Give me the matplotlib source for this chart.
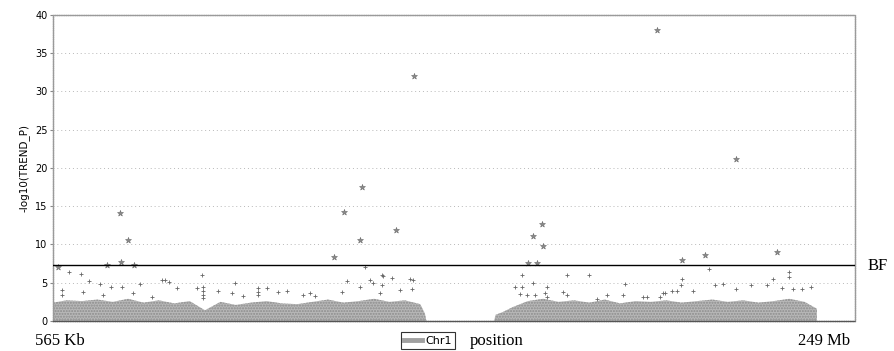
import matplotlib
matplotlib.use("Agg")
import matplotlib.pyplot as plt
from matplotlib.lines import Line2D


# genome-wide threshold, -log10(5e-8)
BF_LEVEL = 7.3

# top of the dense background cloud (Mb, -log10 p); zeros mark the centromere gap
env_mb = [0.6, 5, 10, 15, 20, 25, 30, 35, 40, 45, 50, 55, 60, 65, 70, 75, 80, 85,
          90, 95, 100, 105, 110, 115, 120, 121.5, 122, 144, 144.5, 147, 150, 155,
          160, 165, 170, 175, 180, 185, 190, 195, 200, 205, 210, 215, 220, 225,
          230, 235, 240, 245, 249]
env_val = [2.4, 2.7, 2.6, 2.8, 2.5, 2.9, 2.4, 2.7, 2.3, 2.6, 1.4, 2.5, 2.1, 2.4,
           2.6, 2.3, 2.2, 2.5, 2.8, 2.4, 2.6, 2.9, 2.5, 2.7, 2.2, 1.0, 0.0, 0.0,
           0.8, 1.2, 1.8, 2.6, 2.9, 2.5, 2.7, 2.4, 2.8, 2.3, 2.6, 2.5, 2.7, 2.4,
           2.6, 2.8, 2.5, 2.7, 2.4, 2.6, 2.9, 2.5, 1.6]

# scattered SNPs above the cloud but below the threshold
mid_mb = [3.5, 3.5, 5.8, 9.7, 10.3, 12.3, 15.9, 16.8, 19.4, 23.0, 26.6, 28.9, 32.8,
          36.0, 37.0, 38.3, 40.9, 47.4, 49.0, 49.3, 49.3, 49.3, 49.3, 54.2, 58.8,
          59.7, 62.3, 67.2, 67.2, 67.2, 70.1, 73.7, 76.6, 81.8, 84.1, 85.7, 94.5,
          96.1, 100.4, 102.0, 103.6, 104.6, 106.9, 107.5, 107.5, 107.8, 110.8, 113.4,
          116.6, 117.6, 117.3, 150.8, 152.4, 153.0, 153.0, 154.7, 156.6, 157.3,
          160.5, 161.2, 161.2, 166.4, 167.7, 167.7, 174.8, 177.4, 180.7, 185.9,
          186.5, 192.4, 193.7, 197.9, 198.9, 199.5, 201.8, 203.4, 204.7, 205.0,
          208.6, 213.8, 215.8, 218.4, 222.6, 227.5, 232.7, 234.6, 237.6, 239.8,
          239.8, 241.1, 244.1, 247.0]
mid_val = [4.0, 3.4, 6.4, 6.1, 3.8, 5.2, 4.8, 3.4, 4.4, 4.4, 3.7, 4.8, 3.1,
           5.4, 5.4, 5.1, 4.3, 4.3, 6.0, 4.4, 3.9, 3.4, 3.0, 3.9, 3.7,
           5.0, 3.3, 4.3, 3.8, 3.4, 4.3, 3.8, 3.9, 3.4, 3.7, 3.3, 3.8,
           5.2, 4.4, 7.1, 5.4, 5.0, 3.7, 6.0, 4.7, 5.9, 5.6, 4.1,
           5.5, 5.4, 4.2, 4.4, 3.5, 6.0, 4.4, 3.4, 5.0, 3.4,
           3.7, 4.4, 3.1, 3.8, 6.0, 3.4, 6.0, 2.9, 3.4, 3.4,
           4.8, 3.1, 3.1, 3.1, 3.7, 3.6, 3.9, 3.9, 4.7, 5.5,
           3.9, 6.8, 4.7, 4.8, 4.2, 4.7, 4.7, 5.5, 4.3, 6.4,
           5.8, 4.2, 4.2, 4.4]

# hits at or above the threshold
hit_mb = [2.2, 18.1, 22.4, 22.7, 25.0, 26.9, 91.9, 95.2, 100.4, 101.0, 112.1,
          117.9, 155.0, 156.6, 157.9, 159.5, 159.9, 196.9, 205.0, 212.5, 222.6, 235.9]
hit_val = [7.1, 7.3, 14.1, 7.7, 10.6, 7.3, 8.4, 14.2, 10.6, 17.5, 11.9,
           32.0, 7.6, 11.1, 7.6, 12.7, 9.8, 38.0, 8.0, 8.6, 21.2, 9.0]

y_ticks = [0, 5, 10, 15, 20, 25, 30, 35, 40]


def main() -> None:
    fig = plt.figure(figsize=(8.94, 3.51), dpi=100)
    ax = fig.add_axes([0.0593, 0.0855, 0.8971, 0.8718])

    ax.set_xlim(0.565, 261.4)
    ax.set_ylim(0, 40)
    ax.set_yticks(y_ticks)
    ax.set_xticks([])
    ax.tick_params(axis="y", labelsize=7, length=2, color="#888888", pad=2)
    ax.yaxis.grid(True, linestyle=(0, (1, 3)), color="#b8b8b8", linewidth=0.7)
    ax.set_axisbelow(True)
    for spine in ax.spines.values():
        spine.set_color("#9a9a9a")
        spine.set_linewidth(1.0)
        spine.set_linestyle((0, (1, 0.6)))
    ax.spines["bottom"].set_color("#555555")

    # dense background of non-significant SNPs
    ax.fill_between(env_mb, 0, env_val, color="#b8b8b8", linewidth=0,
                    hatch="......", edgecolor="#8c8c8c", zorder=2)
    ax.scatter(mid_mb, mid_val, marker="+", s=7, color="#666666",
               linewidths=0.6, zorder=3)
    ax.scatter(hit_mb, hit_val, marker="*", s=20, color="#8a8a8a",
               edgecolors="#6a6a6a", linewidths=0.4, zorder=4)

    ax.axhline(BF_LEVEL, color="black", linewidth=1.0, zorder=5)

    ax.set_ylabel("-log10(TREND_P)", fontsize=7.5, labelpad=4)

    serif = "Liberation Serif"
    fig.text(35 / 894, 1 - 341 / 351, "565 Kb", family=serif, fontsize=12,
             ha="left", va="center")
    fig.text(850 / 894, 1 - 341 / 351, "249 Mb", family=serif, fontsize=12,
             ha="right", va="center")
    fig.text(868 / 894, 1 - 266 / 351, "BF", family=serif, fontsize=12,
             ha="left", va="center")
    fig.text(470 / 894, 1 - 341 / 351, "position", family=serif, fontsize=12,
             ha="left", va="center")

    handle = Line2D([], [], color="#a0a0a0", linewidth=3.5)
    leg = fig.legend([handle], ["Chr1"], loc="lower left",
                     bbox_to_anchor=(395 / 894, -0.01), fontsize=8,
                     handlelength=1.6, handletextpad=0.3, borderpad=0.3,
                     fancybox=False, framealpha=1)
    leg.get_frame().set_edgecolor("#333333")
    leg.get_frame().set_linewidth(0.8)

    fig.savefig("out.png", dpi=100)
    plt.close(fig)


if __name__ == "__main__":
    main()
